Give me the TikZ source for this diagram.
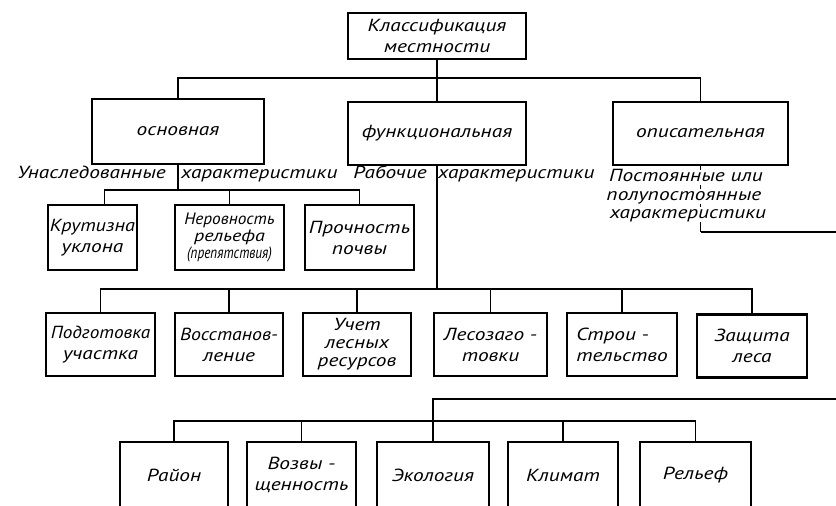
\documentclass[tikz,border=0pt]{standalone}
\usepackage{fontspec}
\newfontfamily\drf{PT Sans Italic}[FakeStretch=1.22]
\begin{document}
\begin{tikzpicture}[x=1pt,y=-1pt,
  box/.style={draw, line width=2.2pt, inner sep=0pt, align=center,
    font=\drf\fontsize{17.5}{21}\selectfont},
  lbl/.style={inner sep=0pt, fill=white, text height=11.5pt, text depth=3.5pt,
    font=\drf\fontsize{17.5}{18}\selectfont},
  conn/.style={line width=1.5pt},
  thinconn/.style={line width=0.7pt},
]
\path[use as bounding box] (0,0) rectangle (836,506);
\clip (0,0) rectangle (836,506);

% level 0
\node[box, minimum width=178pt, minimum height=46pt] (top) at (437,36) {Классификация\\местности};

% level 1
\node[box, minimum width=172pt, minimum height=65pt] (osn) at (178,131.5) {основная};
\node[box, minimum width=178pt, minimum height=63pt] (fun) at (437,133.5) {функциональная};
\node[box, minimum width=175pt, minimum height=63pt] (opi) at (700.5,133.5) {описательная};

% labels under level 1
\node[lbl, anchor=east] (l1) at (166,174) {Унаследованные};
\node[lbl, anchor=west] (l2) at (181,174) {характеристики};
\node[lbl, anchor=east] (l3) at (427,174) {Рабочие};
\node[lbl, anchor=west] (l4) at (438,174) {характеристики};

% level 2 (inherited characteristics)
\node[box, minimum width=89pt, minimum height=65pt] (kru) at (92.5,237.5) {\scalebox{0.95}[1]{Крутизна}\\уклона};
\node[box, minimum width=109pt, minimum height=65pt, font=\drf\fontsize{16.5}{17}\selectfont] (ner) at (229.5,237.5)
  {\scalebox{0.86}[1]{Неровность}\\рельефа\\\scalebox{0.66}[1]{(препятствия)}};
\node[box, minimum width=109pt, minimum height=65pt] (pro) at (359.5,237.5) {Прочность\\почвы};

% level 3 (working characteristics)
\node[box, minimum width=109pt, minimum height=63pt] (pod) at (100.5,344.5) {\scalebox{0.9}[1]{Подготовка}\\участка};
\node[box, minimum width=108pt, minimum height=63pt] (vos) at (229,344.5) {\scalebox{0.93}[1]{Восстанов-}\\ление};
\node[box, minimum width=108pt, minimum height=63pt, font=\drf\fontsize{17.5}{18}\selectfont] (uch) at (357,344.5) {Учет\\лесных\\ресурсов};
\node[box, minimum width=113pt, minimum height=63pt] (les) at (490.5,344.5) {Лесозаго -\\товки};
\node[box, minimum width=110pt, minimum height=63pt, align=left] (str) at (622,344.5) {Строи -\\тельство};
\node[box, minimum width=110pt, minimum height=63pt] (zas) at (752,346) {Защита\\леса};

% level 4 (permanent characteristics)
\node[box, minimum width=108pt, minimum height=66pt] (ray) at (174,475) {Район};
\node[box, minimum width=109pt, minimum height=66pt] (voz) at (301.5,475) {Возвы -\\щенность};
\node[box, minimum width=112pt, minimum height=66pt] (eco) at (433,475) {Экология};
\node[box, minimum width=110pt, minimum height=66pt] (kli) at (563,475) {Климат};
\node[box, minimum width=111pt, minimum height=66pt] (rel) at (695.5,475) {Рельеф};

% bar heights
\coordinate (bA) at (0,78);
\coordinate (bB) at (0,190);
\coordinate (bC) at (0,289);
\coordinate (bD) at (0,421);
\coordinate (turnR) at (0,232);
\coordinate (turnL) at (0,399);
\coordinate (edgeR) at (845,0);

% root to level 1
\draw[conn] (top.south) -- (fun.north);
\draw[conn] (osn.north) |- (top.south |- bA) -| (opi.north);

% basic -> level 2
\draw[conn] (osn.south) -- (osn.south |- bB);
\draw[conn] ([xshift=12pt]kru.north) |- (pro.north |- bB) -- (pro.north);
\draw[conn] (ner.north) -- (ner.north |- bB);

% functional -> level 3
\draw[conn] (fun.south) -- (fun.south |- bC);
\draw[conn] (pod.north) |- (zas.north |- bC) -- (zas.north);
\foreach \n in {vos,uch,les,str} \draw[conn] (\n.north) -- (\n.north |- bC);

% descriptive -> level 4
\draw[thinconn] (opi.south) -- (opi.south |- turnR);
\draw[conn] (opi.south |- turnR) -- (edgeR |- turnR) -- (edgeR |- turnL) -- (eco.north |- turnL) -- (eco.north);
\draw[conn] (ray.north) |- (rel.north |- bD) -- (rel.north);
\foreach \n in {voz,kli} \draw[conn] (\n.north) -- (\n.north |- bD);

% labels under the descriptive box
\node[lbl] (d1) at (686,177) {Постоянные или};
\node[lbl] (d2) at (684,196) {полупостоянные};
\node[lbl] (d3) at (688,214) {характеристики};
\end{tikzpicture}
\end{document}
